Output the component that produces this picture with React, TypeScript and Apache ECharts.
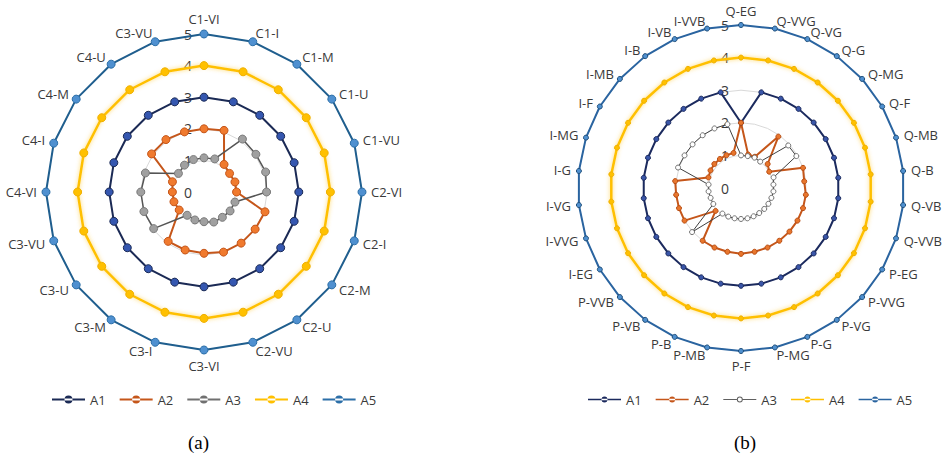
import React, { useEffect, useRef } from "react";
import * as echarts from "echarts";

// ---------- data (clockwise from the top axis) ----------
const axesA = [
  "C1-VI", "C1-I", "C1-M", "C1-U", "C1-VU",
  "C2-VI", "C2-I", "C2-M", "C2-U", "C2-VU",
  "C3-VI", "C3-I", "C3-M", "C3-U", "C3-VU",
  "C4-VI", "C4-I", "C4-M", "C4-U", "C3-VU",
];
const a1A = [3, 3, 3, 3, 3, 3, 3, 3, 3, 3, 3, 3, 3, 3, 3, 3, 3, 3, 3, 3];
const a2A = [2.0, 2.05, 1.08, 1.0, 1.03, 1.03, 2.03, 2.0, 2.0, 2.0, 1.94, 1.93, 1.93, 0.97, 1.0, 1.0, 1.05, 2.05, 2.05, 2.0];
const a3A = [1.08, 1.1, 2.07, 2.03, 2.05, 1.98, 1.03, 1.02, 0.99, 1.0, 0.94, 0.93, 0.91, 1.97, 2.0, 2.0, 1.95, 1.0, 1.05, 1.08];
const a4A = [4, 4, 4, 4, 4, 4, 4, 4, 4, 4, 4, 4, 4, 4, 4, 4, 4, 4, 4, 4];
const a5A = [5, 5, 5, 5, 5, 5, 5, 5, 5, 5, 5, 5, 5, 5, 5, 5, 5, 5, 5, 5];

const axesB = [
  "Q-EG", "Q-VVG", "Q-VG", "Q-G", "Q-MG", "Q-F", "Q-MB", "Q-B", "Q-VB", "Q-VVB",
  "P-EG", "P-VVG", "P-VG", "P-G", "P-MG", "P-F", "P-MB", "P-B", "P-VB", "P-VVB",
  "I-EG", "I-VVG", "I-VG", "I-G", "I-MG", "I-F", "I-MB", "I-B", "I-VB", "I-VVB",
];
const a1B = [2, 3, 3, 3, 3, 3, 3, 3, 3, 3, 3, 3, 3, 3, 3, 3, 3, 3, 3, 3, 3, 3, 3, 3, 3, 3, 3, 3, 3, 3];
const a2B = [2.0, 1.05, 1.05, 1.95, 1.1, 1.0, 2.0, 1.95, 2.0, 2.0, 2.0, 2.0, 2.0, 2.0, 2.0, 2.02, 2.0, 2.0, 2.0, 1.05, 2.0, 2.0, 2.0, 2.03, 1.05, 1.08, 1.1, 1.1, 1.1, 1.1];
const a3B = [1.0, 1.0, 1.02, 1.0, 1.95, 1.96, 1.05, 1.0, 1.0, 0.98, 0.97, 0.96, 0.95, 0.95, 0.95, 0.95, 0.95, 0.96, 0.97, 2.02, 0.98, 0.98, 1.0, 1.0, 2.03, 2.0, 2.0, 2.0, 2.0, 2.0];
const a4B = [4, 4, 4, 4, 4, 4, 4, 4, 4, 4, 4, 4, 4, 4, 4, 4, 4, 4, 4, 4, 4, 4, 4, 4, 4, 4, 4, 4, 4, 4];
const a5B = [5, 5, 5, 5, 5, 5, 5, 5, 5, 5, 5, 5, 5, 5, 5, 5, 5, 5, 5, 5, 5, 5, 5, 5, 5, 5, 5, 5, 5, 5];

const seriesNames = ["A1", "A2", "A3", "A4", "A5"];
const radialMin = 0;
const radialMax = 5;
const captions = ["(a)", "(b)"];

// ---------- styles ----------
const FONT = "'Open Sans', 'Noto Sans', sans-serif";
const TEXT = "#3a3a3a";

const styleA = [
  { line: "#1b2a55", w: 2, fill: "#3557b0", border: "#1b2a55", legend: "#1b2a55" },
  { line: "#c5561a", w: 2, fill: "#f07a2e", border: "#c5561a", legend: "#c5561a" },
  { line: "#555555", w: 1.5, fill: "#a0a0a0", border: "#7a7a7a", legend: "#707070" },
  { line: "#ffc000", w: 2.5, fill: "#ffc000", border: "#f0b000", legend: "#ffc000" },
  { line: "#1f5e8e", w: 2, fill: "#4f90d0", border: "#2c6fa8", legend: "#2c6fa8" },
];
const styleB = [
  { line: "#1b2a5e", w: 2, fill: "#3a56a8", border: "#1b2a5e", legend: "#1b2a5e" },
  { line: "#c5561a", w: 2, fill: "#e8762d", border: "#b84d12", legend: "#c5561a" },
  { line: "#404040", w: 1, fill: "#ffffff", border: "#707070", legend: "#606060" },
  { line: "#ffc000", w: 2.5, fill: "#ffc000", border: "#f0b000", legend: "#ffc000" },
  { line: "#2a64a0", w: 2, fill: "#4f90d0", border: "#1f4e79", legend: "#2a64a0" },
];

const ICON_A = "path://M0,3h33v2h-33z M20.5,4a4,4 0 1,0 -8,0a4,4 0 1,0 8,0z";
const ICON_B = "path://M0,2.25h33v1.5h-33z M19.5,3a3,3 0 1,0 -6,0a3,3 0 1,0 6,0z";
const ICON_B_HOLLOW =
  "path://M0,2.5h13.5v1h-13.5z M19.5,2.5h13.5v1h-13.5z M19.5,3a3,3 0 1,0 -6,0a3,3 0 1,0 6,0z M18.5,3a2,2 0 1,1 -4,0a2,2 0 1,1 4,0z";

// ECharts radar runs counter-clockwise; reorder so the picture runs clockwise.
function clockwise<T>(arr: T[]): T[] {
  return [arr[0], ...arr.slice(1).reverse()];
}

function radarCfg(axes: string[], center: number[], radius: number, nameGap: number) {
  return {
    center,
    radius,
    startAngle: 90,
    shape: "polygon",
    splitNumber: 5,
    nameGap,
    indicator: clockwise(axes).map((name) => ({ name, min: radialMin, max: radialMax })),
    axisName: { color: TEXT, fontSize: 13, fontFamily: FONT },
    axisLine: { show: false },
    axisTick: { show: false },
    axisLabel: { show: false },
    splitLine: { lineStyle: { color: "#d9d9d9", width: 1 } },
    splitArea: { show: false },
  };
}

function radarSeries(radarIndex: number, values: number[][], styles: any[], size: number) {
  return {
    type: "radar",
    radarIndex,
    symbol: "circle",
    data: values.map((v, i) => {
      const s = styles[i];
      const glow = seriesNames[i] === "A4";
      return {
        name: seriesNames[i],
        value: clockwise(v),
        symbolSize: size,
        lineStyle: {
          color: s.line,
          width: s.w,
          ...(glow ? { shadowBlur: 4, shadowColor: "rgba(255,205,60,0.8)" } : {}),
        },
        itemStyle: { color: s.fill, borderColor: s.border, borderWidth: 1 },
      };
    }),
  };
}

function legendCfg(left: number, top: number, styles: any[], icons: string[], h: number) {
  return {
    left,
    top,
    orient: "horizontal",
    itemWidth: 33,
    itemHeight: h,
    itemGap: 14,
    selectedMode: false,
    textStyle: { color: TEXT, fontSize: 13, fontFamily: FONT },
    data: seriesNames.map((name, i) => ({
      name,
      icon: icons[i],
      itemStyle: { color: styles[i].legend, borderWidth: 0 },
    })),
  };
}

function radialAxis(polarIndex: number) {
  return {
    polarIndex,
    type: "value",
    min: radialMin,
    max: radialMax,
    interval: 1,
    z: 1,
    axisLine: { show: false },
    axisTick: { show: false },
    splitLine: { show: false },
    axisLabel: { color: TEXT, fontSize: 14, fontFamily: FONT, margin: 12 },
  };
}

export default function App() {
  const ref = useRef<HTMLDivElement>(null);

  useEffect(() => {
    if (!ref.current) return;
    const chart = echarts.init(ref.current, undefined, { renderer: "svg" });
    const option: any = {
      animation: false,
      backgroundColor: "#ffffff",
      title: [
        {
          text: captions[0],
          left: 188,
          top: 433,
          padding: 0,
          textStyle: { fontFamily: "'Liberation Serif', 'DejaVu Serif', serif", fontSize: 19, fontWeight: "normal", color: "#000" },
        },
        {
          text: captions[1],
          left: 734,
          top: 433,
          padding: 0,
          textStyle: { fontFamily: "'Liberation Serif', 'DejaVu Serif', serif", fontSize: 19, fontWeight: "normal", color: "#000" },
        },
      ],
      polar: [
        { center: [204, 192], radius: 158 },
        { center: [741, 188], radius: 163 },
      ],
      angleAxis: [
        { polarIndex: 0, type: "value", min: 0, max: 360, show: false },
        { polarIndex: 1, type: "value", min: 0, max: 360, show: false },
      ],
      radiusAxis: [radialAxis(0), radialAxis(1)],
      radar: [radarCfg(axesA, [204, 192], 158, 9), radarCfg(axesB, [741, 188], 163, 8)],
      legend: [
        legendCfg(47, 388, styleA, [ICON_A, ICON_A, ICON_A, ICON_A, ICON_A], 8),
        legendCfg(583, 388, styleB, [ICON_B, ICON_B, ICON_B_HOLLOW, ICON_B, ICON_B], 6),
      ],
      series: [
        radarSeries(0, [a1A, a2A, a3A, a4A, a5A], styleA, 8),
        radarSeries(1, [a1B, a2B, a3B, a4B, a5B], styleB, 5),
      ],
    };
    chart.setOption(option);
    return () => chart.dispose();
  }, []);

  return (
    <div
      ref={ref}
      style={{ position: "fixed", left: 0, top: 0, width: 944, height: 458, background: "#fff" }}
    />
  );
}
